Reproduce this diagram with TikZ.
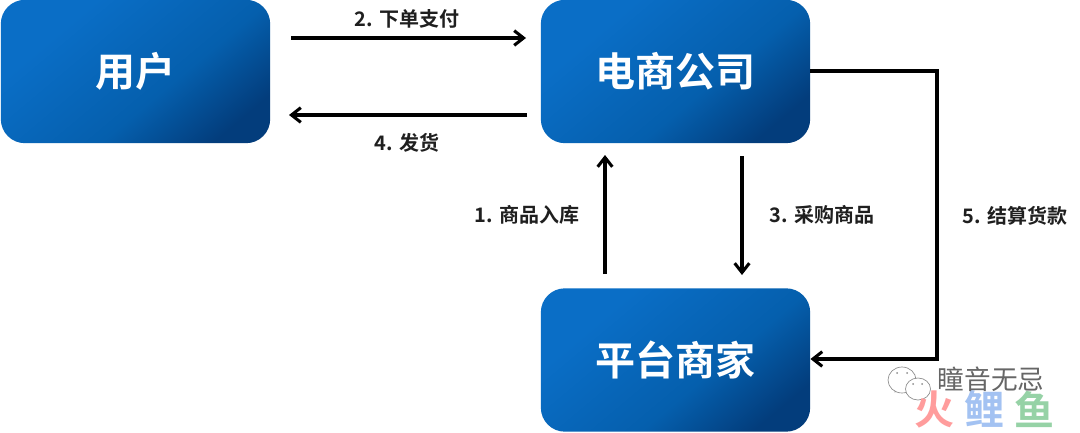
\documentclass[tikz,border=0pt]{standalone}
\usepackage{fontspec}
\usetikzlibrary{arrows.meta}
\setmainfont{Noto Sans CJK SC}[BoldFont={* Bold}]
\newfontfamily\cjkreg{Noto Sans CJK SC}
\definecolor{boxlight}{HTML}{0A6EC6}
\definecolor{boxmid}{HTML}{055FAD}
\definecolor{boxdark}{HTML}{033D7C}
\definecolor{wmred}{HTML}{FF9C9C}
\definecolor{wmblue}{HTML}{A3C2F2}
\definecolor{wmgreen}{HTML}{96D2A6}
\pgfdeclareverticalshading{boxshade}{100bp}{color(0bp)=(boxdark);color(24bp)=(boxdark);color(42bp)=(boxmid);color(70bp)=(boxlight);color(100bp)=(boxlight)}
\tikzset{
  x=0.75pt,y=-0.75pt,
  flowbox/.style={rounded corners=18pt,minimum width=202pt,minimum height=107.5pt,inner sep=0pt,
    shading=boxshade,shading angle=40,
    text=white,font=\bfseries\fontsize{30pt}{32pt}\selectfont},
  conn/.style={line width=2.4pt,draw=black,-{Straight Barb[length=7pt,width=11pt,line width=2.3pt]}},
  lab/.style={font=\bfseries\fontsize{15pt}{17pt}\selectfont,text=black!88,inner sep=0pt},
  mark text/.style={inner sep=0pt},
  bubble/.style={draw=black!45,fill=white,line width=0.5pt}
}
\begin{document}
\begin{tikzpicture}
\useasboundingbox (0,0) rectangle (1080,432);
\fill[white] (0,0) rectangle (1080,432);
% boxes
\node[flowbox] (user) at (135.5,71.5) {用户};
\node[flowbox] (shop) at (675.5,71.5) {电商公司};
\node[flowbox] (merchant) at (675.5,360) {平台商家};
% free connector ends
\coordinate (a2s) at (291,38);
\coordinate (a2e) at (526,38);
\coordinate (a4s) at (527,115);
\coordinate (a4e) at (289,115);
\coordinate (a1s) at (605,274);
\coordinate (a1e) at (605,155);
\coordinate (a3s) at (742,156);
\coordinate (a3e) at (742,275);
\coordinate (c1) at (937,71);
\coordinate (c2) at (937,359);
% connectors
\draw[conn] (a2s) -- (a2e);
\draw[conn] (a4s) -- (a4e);
\draw[conn] (a1s) -- (a1e);
\draw[conn] (a3s) -- (a3e);
\draw[conn] (shop.east |- c1) -- (c1) -- (c2) -- (merchant.east |- c2);
% labels
\node[lab] (l2) at (407,19) {2. 下单支付};
\node[lab] (l4) at (407,143) {4. 发货};
\node[lab] (l1) at (527,215) {1. 商品入库};
\node[lab] (l3) at (822,215) {3. 采购商品};
\node[lab] (l5) at (1015,216) {5. 结算货款};
% watermark
\filldraw[bubble] (895,392) -- (893,379) -- (900,388) -- cycle;
\filldraw[bubble] (902,380) ellipse [x radius=14,y radius=13];
\filldraw[bubble] (918,389) ellipse [x radius=12.5,y radius=11];
\fill[black!45] (897,373) circle (1) (907,373) circle (1) (913,384) circle (1) (922,384) circle (1);
\node[mark text,text=wmred,font=\bfseries\fontsize{30pt}{32pt}\selectfont] (wm2) at (934,409) {火};
\node[mark text,text=wmblue,font=\bfseries\fontsize{30pt}{32pt}\selectfont] (wm3) at (984,409) {鲤};
\node[mark text,text=wmgreen,font=\bfseries\fontsize{30pt}{32pt}\selectfont] (wm4) at (1034,409) {鱼};
\node[mark text,text=black!60,font=\cjkreg\fontsize{20pt}{22pt}\selectfont] (wm1) at (991,379) {瞳音无忌};
\end{tikzpicture}
\end{document}
